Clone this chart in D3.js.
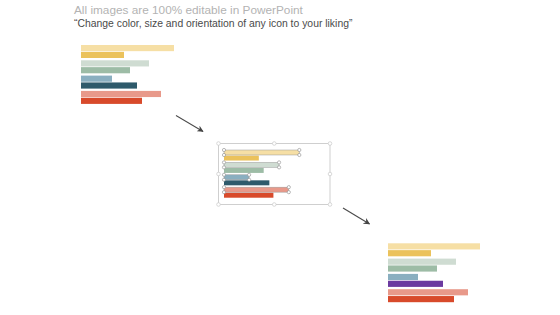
<!DOCTYPE html>
<html>
<head>
<meta charset="utf-8">
<script src="https://cdn.jsdelivr.net/npm/d3@7"></script>
<style>
  html, body { margin: 0; padding: 0; background: #fff; }
  svg { display: block; }
</style>
</head>
<body>
<svg id="chart"></svg>
<script>
const width = 560;
const height = 315;

// data (bar lengths in % of the longest track)
const categories = ["A", "B", "C", "D"];
const series = ["light", "dark"];
const lightValues = [93, 68, 31, 80];
const darkValues = [43, 49, 56, 61];
const lightValues3 = [92, 68, 30, 80];
const darkValues3 = [43, 49, 55, 66];
const lightColors = ["#f6dfa5", "#cfdcd2", "#8aafc0", "#e8998a"];
const darkColors = ["#ebc25b", "#9dbca6", "#2e5a6b", "#d84a2b"];
const darkColors3 = ["#ebc25b", "#9dbca6", "#6b3aa0", "#d84a2b"];

const titleText = "All images are 100% editable in PowerPoint";
const subText = "\u201cChange color, size and orientation of any icon to your liking\u201d";

const svg = d3.select("#chart")
  .attr("width", width)
  .attr("height", height)
  .attr("viewBox", `0 0 ${width} ${height}`);

svg.append("text")
  .attr("x", 74)
  .attr("y", 14)
  .attr("font-family", "Liberation Sans, Arial, sans-serif")
  .attr("font-size", 11.8)
  .attr("fill", "#b3b3b3")
  .text(titleText);

svg.append("text")
  .attr("x", 74)
  .attr("y", 26.5)
  .attr("font-family", "Liberation Sans, Arial, sans-serif")
  .attr("font-size", 10.4)
  .attr("fill", "#4a4a4a")
  .text(subText);

const defs = svg.append("defs");
defs.append("marker")
  .attr("id", "head")
  .attr("viewBox", "0 0 10 10")
  .attr("refX", 9)
  .attr("refY", 5)
  .attr("markerWidth", 6)
  .attr("markerHeight", 6)
  .attr("orient", "auto")
  .append("path")
  .attr("d", "M0,0 L10,5 L0,10 L3,5 Z")
  .attr("fill", "#444");

function drawGroup(opts) {
  const g = svg.append("g")
    .attr("transform", `translate(${opts.x},${opts.y})`);

  const x = d3.scaleLinear()
    .domain([0, 100])
    .range([0, 100 * opts.k]);

  const yPair = d3.scaleBand()
    .domain(categories)
    .range([0, 61.2 * opts.k]);

  const ySub = d3.scaleBand()
    .domain(series)
    .range([0, 13 * opts.k])
    .paddingInner(0.1);

  const rows = [];
  categories.forEach((c, i) => {
    rows.push({ cat: c, s: "light", v: opts.light[i], color: lightColors[i] });
    rows.push({ cat: c, s: "dark", v: opts.dark[i], color: opts.darkColors[i] });
  });

  g.selectAll("rect.bar")
    .data(rows)
    .join("rect")
    .attr("class", "bar")
    .attr("x", 0)
    .attr("y", d => yPair(d.cat) + ySub(d.s))
    .attr("width", d => x(d.v))
    .attr("height", ySub.bandwidth())
    .attr("fill", d => d.color);

  if (opts.selected) {
    const top = rows.filter(d => d.s === "light");
    g.selectAll("rect.sel")
      .data(top)
      .join("rect")
      .attr("class", "sel")
      .attr("x", 0)
      .attr("y", d => yPair(d.cat) + ySub(d.s))
      .attr("width", d => x(d.v))
      .attr("height", ySub.bandwidth())
      .attr("fill", "none")
      .attr("stroke", "#9a9a9a")
      .attr("stroke-width", 0.5);

    const handles = [];
    top.forEach(d => {
      const y0 = yPair(d.cat) + ySub(d.s);
      const y1 = y0 + ySub.bandwidth();
      [0, x(d.v)].forEach(px => {
        handles.push([px, y0]);
        handles.push([px, y1]);
      });
    });
    g.selectAll("circle.h")
      .data(handles)
      .join("circle")
      .attr("class", "h")
      .attr("cx", d => d[0])
      .attr("cy", d => d[1])
      .attr("r", 1.6)
      .attr("fill", "#fff")
      .attr("stroke", "#8a8a8a")
      .attr("stroke-width", 0.6);
  }
}

drawGroup({ x: 81, y: 45, k: 1, light: lightValues, dark: darkValues, darkColors: darkColors });
drawGroup({ x: 224, y: 150, k: 0.81, light: lightValues, dark: darkValues, darkColors: darkColors, selected: true });
drawGroup({ x: 388, y: 243.3, k: 1, light: lightValues3, dark: darkValues3, darkColors: darkColors3 });

// selection frame around the middle chart
const box = { x0: 218.5, y0: 143.5, x1: 330, y1: 204.5 };
svg.append("rect")
  .attr("x", box.x0)
  .attr("y", box.y0)
  .attr("width", box.x1 - box.x0)
  .attr("height", box.y1 - box.y0)
  .attr("fill", "none")
  .attr("stroke", "#cfcfcf")
  .attr("stroke-width", 1);

const mx = (box.x0 + box.x1) / 2;
const my = (box.y0 + box.y1) / 2;
const frameHandles = [
  [box.x0, box.y0], [mx, box.y0], [box.x1, box.y0],
  [box.x0, my], [box.x1, my],
  [box.x0, box.y1], [mx, box.y1], [box.x1, box.y1]
];
svg.selectAll("circle.fh")
  .data(frameHandles)
  .join("circle")
  .attr("class", "fh")
  .attr("cx", d => d[0])
  .attr("cy", d => d[1])
  .attr("r", 1.8)
  .attr("fill", "#fff")
  .attr("stroke", "#c8c8c8")
  .attr("stroke-width", 0.7);

// arrows
const arrows = [
  [[176, 115.5], [203, 131.5]],
  [[343, 208], [369.5, 224]]
];
svg.selectAll("line.arrow")
  .data(arrows)
  .join("line")
  .attr("class", "arrow")
  .attr("x1", d => d[0][0])
  .attr("y1", d => d[0][1])
  .attr("x2", d => d[1][0])
  .attr("y2", d => d[1][1])
  .attr("stroke", "#4a4a4a")
  .attr("stroke-width", 1.1)
  .attr("marker-end", "url(#head)");
</script>
</body>
</html>
